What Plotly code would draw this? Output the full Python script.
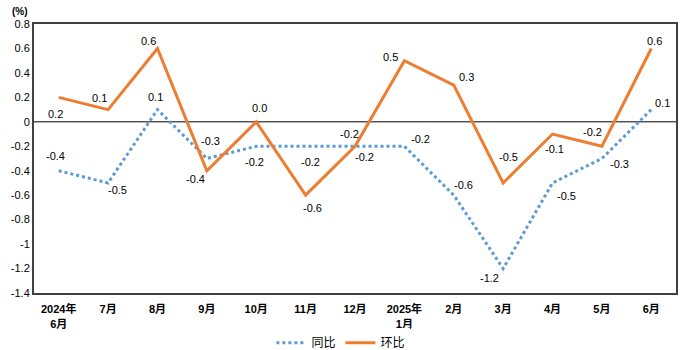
import plotly.graph_objects as go

months = ["2024年<br>6月", "7月", "8月", "9月", "10月", "11月", "12月", "2025年<br>1月",
          "2月", "3月", "4月", "5月", "6月"]
yoy = [-0.4, -0.5, 0.1, -0.3, -0.2, -0.2, -0.2, -0.2, -0.6, -1.2, -0.5, -0.3, 0.1]
mom = [0.2, 0.1, 0.6, -0.4, 0.0, -0.6, -0.2, 0.5, 0.3, -0.5, -0.1, -0.2, 0.6]
y_ticks = [0.8, 0.6, 0.4, 0.2, 0, -0.2, -0.4, -0.6, -0.8, -1, -1.2, -1.4]

# label offsets in pixels (dx right, dy down) relative to each point
yoy_off = [(-3, -15), (9, 7), (-2, -13), (4, -18), (-2, 16), (5, 16), (9, 11),
           (16, -7), (10, -10), (-14, 9), (14, 13), (18, 5), (11, -7)]
mom_off = [(-3, 17), (-9, -12), (-9, -7), (-11, 8), (3, -14), (7, 13), (-6, -12),
           (-14, -4), (13, -8), (5, -26), (2, 15), (-9, -14), (3, -7)]

BLUE = "#5B9BD5"
ORANGE = "#ED7D31"
lab_font = dict(family="Liberation Sans, Arial, sans-serif", size=11, color="#000000")

fig = go.Figure()
fig.add_trace(go.Scatter(x=months, y=yoy, mode="lines", name="同比",
                         line=dict(color=BLUE, width=3, dash="dot")))
fig.add_trace(go.Scatter(x=months, y=mom, mode="lines", name="环比",
                         line=dict(color=ORANGE, width=3)))

for series, offs in ((yoy, yoy_off), (mom, mom_off)):
    for m, v, (dx, dy) in zip(months, series, offs):
        fig.add_annotation(x=m, y=v, xref="x", yref="y", text=f"{v:.1f}",
                           showarrow=False, xshift=dx, yshift=-dy, font=lab_font)

fig.add_shape(type="line", xref="paper", yref="y", x0=0, x1=1, y0=0, y1=0,
              line=dict(color="#000000", width=1), layer="below")

fig.add_annotation(text="<b>(%)</b>", xref="paper", yref="paper", x=-0.037, y=1.0,
                   xanchor="left", yanchor="bottom", yshift=5, showarrow=False,
                   font=dict(family="Liberation Sans, Arial, sans-serif", size=10, color="#000"))

fig.update_layout(
    width=683, height=350,
    margin=dict(l=34, r=7, t=24, b=57, autoexpand=False),
    plot_bgcolor="white", paper_bgcolor="white",
    showlegend=True,
    legend=dict(orientation="h", x=0.478, xanchor="center", y=-0.185, yanchor="middle",
                font=dict(family="Noto Sans CJK SC, sans-serif", size=12, color="#000"),
                itemwidth=30, tracegroupgap=0),
    xaxis=dict(type="category", range=[-0.5, 12.5], showgrid=False, showline=True,
               linecolor="#404040", linewidth=2, mirror=True, ticks="", automargin=False,
               ticklabelstandoff=5,
               tickfont=dict(family="Liberation Sans, Noto Sans CJK SC, sans-serif",
                             size=11, color="#000", weight="bold")),
    yaxis=dict(range=[-1.4, 0.8], tickvals=y_ticks, automargin=False,
               ticktext=[str(v) for v in y_ticks], showgrid=False, zeroline=False,
               showline=True, linecolor="#404040", linewidth=2, mirror=True, ticks="",
               tickfont=dict(family="Liberation Sans, Arial, sans-serif", size=11, color="#000")),
)

fig.write_html("out.html")
